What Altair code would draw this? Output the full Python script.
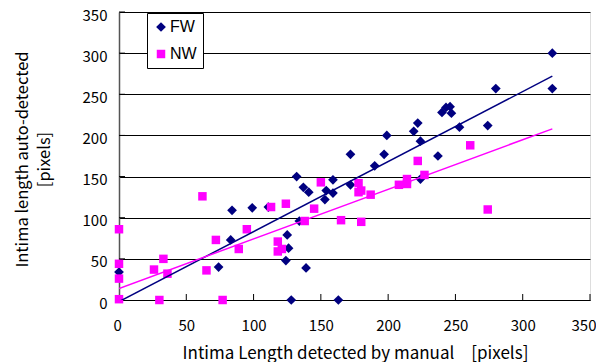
import altair as alt
import pandas as pd

fw_x = [0, 128, 163, 74, 83, 84, 99, 111, 124, 125, 126, 134, 139, 132, 137, 141, 153, 154, 159, 159,
        172, 172, 190, 197, 199, 219, 222, 224, 224, 237, 240, 243, 246, 247, 253, 274, 280, 322, 322]
fw_y = [34, 0, 0, 40, 73, 109, 112, 113, 48, 79, 63, 96, 39, 150, 137, 131, 122, 133, 146, 130,
        177, 140, 163, 177, 200, 205, 215, 193, 147, 175, 228, 234, 235, 227, 210, 212, 257, 300, 257]

nw_x = [0, 0, 0, 0, 30, 77, 26, 33, 36, 62, 65, 72, 89, 95, 113, 124, 118, 118, 121, 138,
        145, 150, 165, 178, 178, 180, 180, 187, 208, 214, 214, 227, 222, 261, 274]
nw_y = [86, 44, 26, 1, 0, 0, 37, 50, 32, 126, 36, 73, 62, 86, 113, 117, 71, 59, 62, 96,
        111, 143, 97, 142, 131, 133, 95, 128, 140, 147, 141, 152, 169, 188, 110]

# linear trendlines (end points)
trend_x = [0, 322]
fw_trend_y = [-2, 272]
nw_trend_y = [14, 208]

series_names = ["FW", "NW"]
series_colors = ["#000080", "#FF00FF"]
series_shapes = ["diamond", "square"]
tick_vals = [50, 100, 150, 200, 250, 300, 350]
axis_vals = [0, 50, 100, 150, 200, 250, 300, 350]

df = pd.DataFrame({
    "x": fw_x + nw_x,
    "y": fw_y + nw_y,
    "series": ["FW"] * len(fw_x) + ["NW"] * len(nw_x),
})
df["order"] = range(len(df))
trend = pd.DataFrame({
    "x": trend_x * 2,
    "y": fw_trend_y + nw_trend_y,
    "series": ["FW"] * 2 + ["NW"] * 2,
})
ticks = pd.DataFrame({"v": tick_vals})

W, H = 471, 288
FONT = "Noto Sans CJK JP"

xscale = alt.Scale(domain=[0, 350], nice=False, zero=True)
yscale = alt.Scale(domain=[0, 350], nice=False, zero=True)

points = alt.Chart(df).mark_point(filled=True, opacity=1, strokeWidth=0).encode(
    x=alt.X("x:Q", scale=xscale,
            axis=alt.Axis(values=axis_vals, grid=False, ticks=False, labelFlush=True,
                          labelFlushOffset=6,
                          domainColor="#000", domainWidth=1, labelFont=FONT, labelFontSize=15,
                          labelColor="#000", labelPadding=18,
                          title="Intima Length detected by manual\u3000[pixels]",
                          titleFont=FONT, titleFontSize=17, titleFontWeight="normal",
                          titleColor="#000", titleX=236, titleY=53, titleBaseline="middle",
                          titleAlign="center", titleAnchor="middle")),
    y=alt.Y("y:Q", scale=yscale,
            axis=alt.Axis(values=axis_vals, grid=True, labelFlush=False,
                          gridColor="#000", gridWidth=1, gridOpacity=1, ticks=False,
                          domainColor="#555", domainWidth=1.5, labelFont=FONT, labelFontSize=15,
                          labelColor="#000", labelPadding=12, labelOffset=3,
                          title=["Intima length auto-detected", "[pixels]"],
                          titleFont=FONT, titleFontSize=16.5, titleFontWeight="normal",
                          titleColor="#000", titleAngle=270, titleX=-105, titleY=147,
                          titleBaseline="top", titleAlign="center", titleLineHeight=22)),
    color=alt.Color("series:N", scale=alt.Scale(domain=series_names, range=series_colors),
                    legend=alt.Legend(title=None, orient="none", legendX=28, legendY=1,
                                      fillColor="white", strokeColor="#000", padding=6,
                                      rowPadding=11, labelFont="Liberation Sans",
                                      labelFontSize=16, labelColor="#000", symbolSize=80,
                                      labelOffset=1, symbolStrokeWidth=0)),
    shape=alt.Shape("series:N", scale=alt.Scale(domain=series_names, range=series_shapes)),
    size=alt.Size("series:N", scale=alt.Scale(domain=series_names, range=[95, 72]), legend=None),
    order=alt.Order("order:Q"),
)

fw_line = alt.Chart(trend).transform_filter(alt.datum.series == "FW").mark_line(
    color="#000080", strokeWidth=1.5, clip=True).encode(
    x=alt.X("x:Q", scale=xscale), y=alt.Y("y:Q", scale=yscale))

nw_line = alt.Chart(trend).transform_filter(alt.datum.series == "NW").mark_line(
    color="#FF00FF", strokeWidth=1.5, clip=True).encode(
    x=alt.X("x:Q", scale=xscale), y=alt.Y("y:Q", scale=yscale))

xticks = alt.Chart(ticks).mark_rule(color="#000", strokeWidth=1).encode(
    x=alt.X("v:Q", scale=xscale), y=alt.value(H), y2=alt.value(H - 6))
yticks = alt.Chart(ticks).mark_rule(color="#000", strokeWidth=1).encode(
    y=alt.Y("v:Q", scale=yscale), x=alt.value(0), x2=alt.value(6))

chart = alt.layer(points, fw_line, nw_line, xticks, yticks).properties(
    width=W, height=H,
    autosize=alt.AutoSizeParams(type="none"),
    padding={"left": 111, "top": 4, "right": 6, "bottom": 62},
).configure_view(stroke="#888", strokeWidth=1.5).configure(background="white")

chart.save("out.html", embed_options={"renderer": "svg", "actions": False})
